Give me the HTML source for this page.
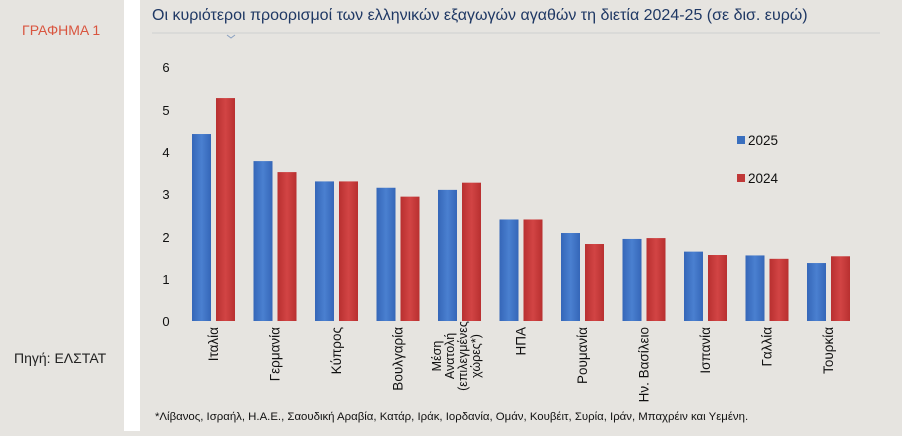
<!DOCTYPE html>
<html><head><meta charset="utf-8"><style>
body{margin:0;width:902px;height:431px;overflow:hidden;background:#e6e4e0;font-family:"Liberation Sans","DejaVu Sans",sans-serif;}
</style></head><body>
<svg width="902" height="431" xmlns="http://www.w3.org/2000/svg" font-family="Liberation Sans, DejaVu Sans, sans-serif">
<rect x="0" y="0" width="902" height="431" fill="#e6e4e0"/>
<rect x="124" y="0" width="16" height="431" fill="#ffffff"/>
<text x="22" y="35" font-size="14" fill="#d9553f">ΓΡΑΦΗΜΑ 1</text>
<text x="14" y="363" font-size="14" fill="#222">Πηγή: ΕΛΣΤΑΤ</text>
<text x="152" y="20" font-size="16" fill="#1f3864">Οι κυριότεροι προορισμοί των ελληνικών εξαγωγών αγαθών τη διετία 2024-25 (σε δισ. ευρώ)</text>
<line x1="152" y1="33" x2="880" y2="33" stroke="#cfcfcf" stroke-width="1"/>
<path d="M227 35 L231 38 L235 35" stroke="#8aa0c0" fill="none" stroke-width="1"/>
<g font-size="13" fill="#111" text-anchor="middle">
<text x="166" y="72">6</text><text x="166" y="115">5</text><text x="166" y="157">4</text><text x="166" y="199">3</text><text x="166" y="242">2</text><text x="166" y="284">1</text><text x="166" y="326">0</text>
</g>
<defs>
<linearGradient id="b" x1="0" x2="1"><stop offset="0" stop-color="#3566b8"/><stop offset=".5" stop-color="#4a80d0"/><stop offset="1" stop-color="#3566b8"/></linearGradient>
<linearGradient id="r" x1="0" x2="1"><stop offset="0" stop-color="#b83030"/><stop offset=".5" stop-color="#d24444"/><stop offset="1" stop-color="#b83030"/></linearGradient>
</defs>
<g id="bars"></g>
<g font-size="13.5" fill="#111" text-anchor="end" id="labels"></g>
<rect x="737" y="136" width="8" height="8" fill="#3a6fbe"/>
<text x="748" y="145" font-size="13.5" fill="#111">2025</text>
<rect x="737" y="174" width="8" height="8" fill="#c03838"/>
<text x="748" y="183" font-size="13.5" fill="#111">2024</text>
<text x="155" y="420" font-size="11.4" fill="#111">*Λίβανος, Ισραήλ, Η.Α.Ε., Σαουδική Αραβία, Κατάρ, Ιράκ, Ιορδανία, Ομάν, Κουβέιτ, Συρία, Ιράν, Μπαχρέιν και Υεμένη.</text>
<script>
var d=[["Ιταλία",4.42,5.27],["Γερμανία",3.78,3.52],["Κύπρος",3.3,3.3],["Βουλγαρία",3.15,2.94],["Μέση|Ανατολή|(επιλεγμένες|χώρες*)",3.1,3.27],["ΗΠΑ",2.4,2.4],["Ρουμανία",2.08,1.82],["Ην. Βασίλειο",1.94,1.96],["Ισπανία",1.64,1.56],["Γαλλία",1.55,1.47],["Τουρκία",1.37,1.53]];
var ns="http://www.w3.org/2000/svg",g=document.getElementById("bars"),L=document.getElementById("labels");
d.forEach(function(e,i){var c=213+i*61.5;
[[e[1],c-21,"url(#b)"],[e[2],c+3,"url(#r)"]].forEach(function(v){var h=v[0]*42.3,r=document.createElementNS(ns,"rect");r.setAttribute("x",v[1]);r.setAttribute("y",321-h);r.setAttribute("width",19);r.setAttribute("height",h);r.setAttribute("fill",v[2]);g.appendChild(r);});
var lines=e[0].split("|"),n=lines.length;
lines.forEach(function(t,j){var x=n>1?(441+j*13):(c+5);var tx=document.createElementNS(ns,"text");tx.setAttribute("transform","translate("+x+",327) rotate(-90)");tx.setAttribute("text-anchor",n>1?"middle":"end");if(n>1){tx.setAttribute("x",-29);tx.setAttribute("font-size","12.5");}tx.textContent=t;L.appendChild(tx);});
});
</script>
</svg>
</body></html>
